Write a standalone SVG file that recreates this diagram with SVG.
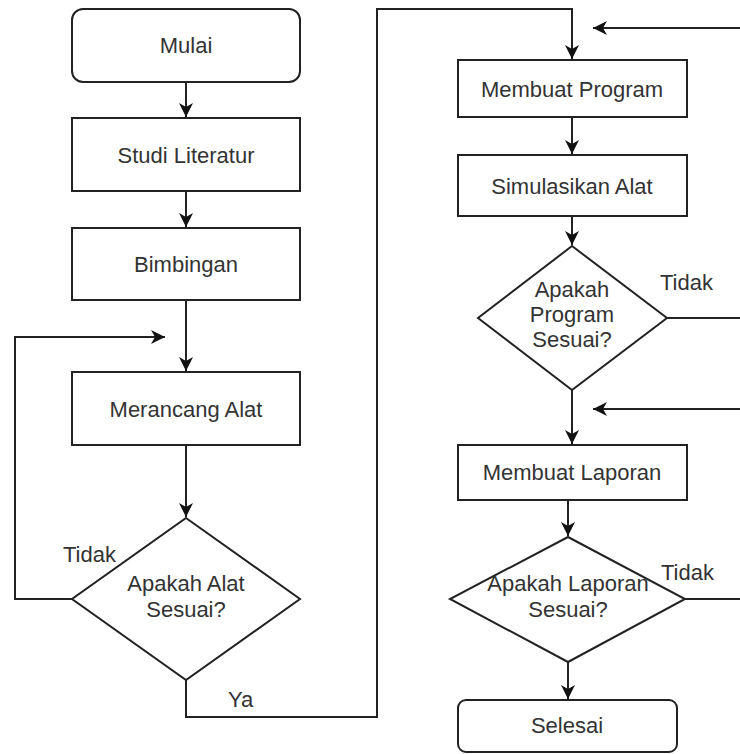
<svg xmlns="http://www.w3.org/2000/svg" width="740" height="754" viewBox="0 0 740 754">
<style>
.n{fill:#fff;stroke:#222;stroke-width:2}
.t{font-family:"Liberation Sans",Arial,sans-serif;font-size:22px;fill:#333;text-anchor:middle}
.l{font-family:"Liberation Sans",Arial,sans-serif;font-size:22px;fill:#333}
.c{fill:none;stroke:#222;stroke-width:2}
</style>
<defs>
<marker id="a" markerUnits="userSpaceOnUse" markerWidth="15" markerHeight="15" refX="14" refY="7" orient="auto">
<path d="M0,0 L14,7 L0,14 L4,7 z" fill="#111"/>
</marker>
</defs>
<rect width="740" height="754" fill="#fff"/>
<g id="connectors">
<path class="c" d="M186,82 V117" marker-end="url(#a)"/>
<path class="c" d="M186,191 V227" marker-end="url(#a)"/>
<path class="c" d="M186,300 V371" marker-end="url(#a)"/>
<path class="c" d="M186,445 V517" marker-end="url(#a)"/>
<path class="c" d="M72,599 H15 V337 H165" marker-end="url(#a)"/>
<path class="c" d="M186,680 V717 H377 V9 H572 V59" marker-end="url(#a)"/>
<path class="c" d="M740,28 H593" marker-end="url(#a)"/>
<path class="c" d="M572,117 V154" marker-end="url(#a)"/>
<path class="c" d="M572,216 V245" marker-end="url(#a)"/>
<path class="c" d="M667,318 H740"/>
<path class="c" d="M572,390 V444" marker-end="url(#a)"/>
<path class="c" d="M740,409 H593" marker-end="url(#a)"/>
<path class="c" d="M568,500 V536" marker-end="url(#a)"/>
<path class="c" d="M685,599 H740"/>
<path class="c" d="M568,662 V699" marker-end="url(#a)"/>
</g>
<g id="mulai"><rect class="n" x="72" y="9" width="228" height="73" rx="11"/><text class="t" x="186" y="53">Mulai</text></g>
<g id="studi"><rect class="n" x="72" y="118" width="228" height="73"/><text class="t" x="186" y="163">Studi Literatur</text></g>
<g id="bimbingan"><rect class="n" x="72" y="228" width="228" height="72"/><text class="t" x="186" y="272">Bimbingan</text></g>
<g id="merancang"><rect class="n" x="72" y="372" width="228" height="73"/><text class="t" x="186" y="417">Merancang Alat</text></g>
<g id="cekAlat"><path class="n" d="M186,518 L300,599 L186,680 L72,599 Z"/><text class="t" x="186" y="591">Apakah Alat</text><text class="t" x="186" y="617">Sesuai?</text></g>
<g id="program"><rect class="n" x="458" y="60" width="229" height="57"/><text class="t" x="572" y="97">Membuat Program</text></g>
<g id="simulasi"><rect class="n" x="458" y="155" width="229" height="61"/><text class="t" x="572" y="194">Simulasikan Alat</text></g>
<g id="cekProgram"><path class="n" d="M572,246 L667,318 L572,390 L478,318 Z"/><text class="t" x="572" y="297">Apakah</text><text class="t" x="572" y="322">Program</text><text class="t" x="572" y="347">Sesuai?</text></g>
<g id="laporan"><rect class="n" x="458" y="445" width="229" height="55"/><text class="t" x="572" y="480">Membuat Laporan</text></g>
<g id="cekLaporan"><path class="n" d="M568,537 L685,599 L568,662 L450,599 Z"/><text class="t" x="568" y="591">Apakah Laporan</text><text class="t" x="568" y="617">Sesuai?</text></g>
<g id="selesai"><rect class="n" x="458" y="700" width="219" height="52" rx="8"/><text class="t" x="567" y="733">Selesai</text></g>
<g id="labels">
<text class="l" x="63" y="562">Tidak</text>
<text class="l" x="228" y="707">Ya</text>
<text class="l" x="660" y="290">Tidak</text>
<text class="l" x="661" y="580">Tidak</text>
</g>
</svg>
